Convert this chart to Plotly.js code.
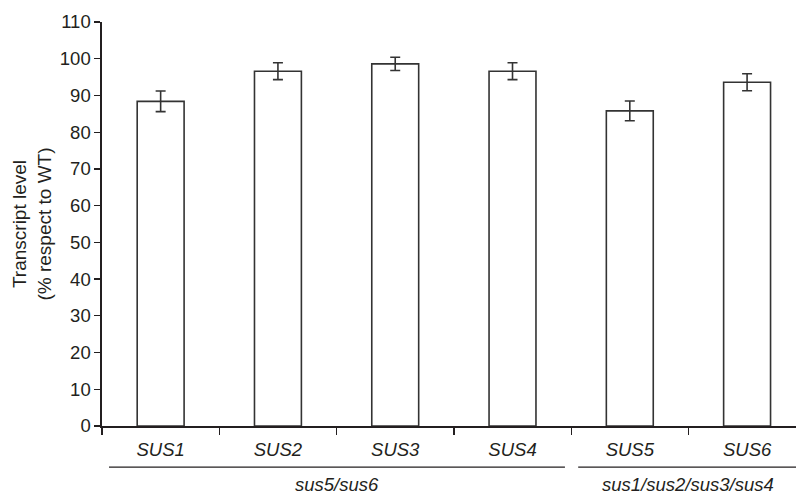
<!DOCTYPE html>
<html>
<head>
<meta charset="utf-8">
<script src="https://cdn.plot.ly/plotly-3.0.1.min.js"></script>
<style>html,body{margin:0;padding:0;background:#fff;}#chart{width:796px;height:496px;}</style>
</head>
<body>
<div id="chart"></div>
<script>
// Data
const genes = ['SUS1', 'SUS2', 'SUS3', 'SUS4', 'SUS5', 'SUS6'];
const transcriptLevel = [88.4, 96.6, 98.6, 96.6, 85.8, 93.6];
const errorSE = [2.8, 2.3, 1.8, 2.3, 2.7, 2.3];
const groupNames = ['sus5/sus6', 'sus1/sus2/sus3/sus4'];
const groupStart = [0, 4];
const groupEnd = [3, 5];
const yTicks = [0, 10, 20, 30, 40, 50, 60, 70, 80, 90, 100, 110];

const ink = '#231f20';
const FONT = 'Liberation Sans, Arial, Helvetica, sans-serif';

const trace = {
  type: 'bar',
  x: genes.map(g => '<i>' + g + '</i>'),
  y: transcriptLevel,
  width: 0.4,
  marker: { color: '#ffffff', line: { color: '#333333', width: 1.6 } },
  error_y: { type: 'data', array: errorSE, visible: true, color: '#333333', thickness: 1.6, width: 5 },
  hoverinfo: 'none'
};

const shapes = [];
const annotations = [];
const lastX = 5.417;
groupNames.forEach((name, i) => {
  const x0 = groupStart[i] - 0.44;
  const x1 = Math.min(groupEnd[i] + 0.447, lastX);
  shapes.push({ type: 'line', xref: 'x', yref: 'paper', x0: x0, x1: x1, y0: -0.1016, y1: -0.1016,
    line: { color: ink, width: 1.3 } });
  annotations.push({ xref: 'x', yref: 'paper', x: (groupStart[i] + groupEnd[i]) / 2, y: -0.1455,
    xanchor: 'center', yanchor: 'middle', showarrow: false, borderpad: 0, text: '<i>' + name + '</i>',
    font: { family: FONT, size: 18.5, color: ink } });
});

const layout = {
  width: 796, height: 496,
  margin: { l: 102, r: 0, t: 22, b: 70.3, pad: 0 },
  paper_bgcolor: '#ffffff', plot_bgcolor: '#ffffff',
  showlegend: false,
  font: { family: FONT, size: 18.5, color: ink },
  xaxis: {
    type: 'category',
    range: [-0.5, lastX],
    tickson: 'boundaries',
    ticks: 'outside', ticklen: 7, tickwidth: 1.3, tickcolor: ink,
    ticklabelstandoff: 6,
    showline: true, linecolor: ink, linewidth: 1.6,
    showgrid: false, zeroline: false,
    tickfont: { family: FONT, size: 18.5, color: ink },
    fixedrange: true
  },
  yaxis: {
    range: [0, 110],
    tickvals: yTicks,
    ticks: 'outside', ticklen: 6, tickwidth: 1.3, tickcolor: ink,
    showline: true, linecolor: ink, linewidth: 1.6,
    showgrid: false, zeroline: false,
    tickfont: { family: FONT, size: 18.5, color: ink },
    title: { text: 'Transcript level<br>(% respect to WT)', font: { family: FONT, size: 19, color: ink }, standoff: 3 },
    automargin: false,
    fixedrange: true
  },
  shapes: shapes,
  annotations: annotations
};

Plotly.newPlot('chart', [trace], layout, { displayModeBar: false, staticPlot: true });
</script>
</body>
</html>
